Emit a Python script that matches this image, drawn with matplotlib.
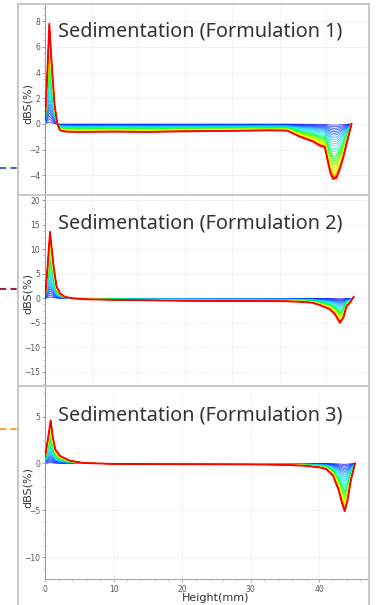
import numpy as np
import matplotlib
matplotlib.use("Agg")
import matplotlib.pyplot as plt
from matplotlib.colors import LinearSegmentedColormap
from matplotlib.lines import Line2D
from matplotlib.ticker import AutoMinorLocator, FixedLocator

# ---- data ----
titles = ["Sedimentation (Formulation 1)",
          "Sedimentation (Formulation 2)",
          "Sedimentation (Formulation 3)"]

# final (red) profile of each formulation: height in mm, dBS in %
f1_x = [0, 0.3, 0.63, 1.0, 1.4, 1.8, 2.2, 3.0, 5, 10, 15, 20, 25, 30, 33,
        35.3, 37.2, 39.0, 40.1, 40.8, 41.2, 41.6, 42.0, 42.5, 43.0, 43.5, 44.0, 44.7]
f1_y = [0.3, 3.5, 7.8, 4.5, 1.5, 0.0, -0.5, -0.6, -0.62, -0.6, -0.62, -0.58, -0.55,
        -0.52, -0.5, -0.52, -1.0, -1.35, -1.7, -1.8, -2.8, -3.8, -4.28, -4.2, -3.5,
        -2.6, -1.5, 0.0]

f2_x = [0, 0.35, 0.73, 1.0, 1.3, 1.7, 2.2, 2.9, 4, 6, 10, 15, 20, 25, 30, 35, 37,
        39, 40.1, 41.5, 42.3, 43.0, 43.5, 44.0, 44.3, 44.6, 45.0]
f2_y = [0, 6, 13.6, 10, 6, 2.4, 1.0, 0.3, 0.0, -0.2, -0.3, -0.4, -0.5, -0.55, -0.55,
        -0.6, -0.7, -0.9, -1.4, -2.2, -3.3, -5.0, -4.0, -1.5, -1.2, -0.6, 0.3]

f3_x = [0, 0.4, 0.83, 1.1, 1.5, 2.2, 3.6, 5.6, 10, 20, 30, 35, 38, 40.1, 41.0,
        42.0, 42.8, 43.3, 43.7, 44.1, 44.6, 45.2]
f3_y = [0.7, 2.5, 4.6, 3.0, 1.5, 0.8, 0.3, 0.05, -0.05, -0.08, -0.1, -0.15, -0.25,
        -0.43, -0.6, -1.3, -2.8, -4.2, -5.1, -4.0, -1.8, 0.0]

# relative amplitude of each scan compared with the last one (blue -> red)
scan_level = [0.02, 0.05, 0.08, 0.11, 0.14, 0.17, 0.20, 0.24, 0.28, 0.32, 0.36, 0.40,
              0.45, 0.50, 0.55, 0.59, 0.63, 0.67, 0.71, 0.74, 0.77, 0.80, 0.83, 0.85,
              0.87, 0.89, 0.91, 0.93, 0.94, 0.95, 0.96, 0.97, 0.98, 0.99, 0.995, 1.0]

y_ticks = [[-4, -2, 0, 2, 4, 6, 8],
           [-15, -10, -5, 0, 5, 10, 15, 20],
           [-10, -5, 0, 5]]
y_limits = [(-5.45, 9.26), (-17.7, 20.9), (-12.35, 8.15)]
x_ticks = [0, 10, 20, 30, 40]
top_grid_x = [6.8, 13.5, 20.4, 27.2, 34.2, 41.0]

marker_colors = ["#4a6cc0", "#9b2050", "#f5a445"]

# ---- figure ----
W, H = 377, 605
fig = plt.figure(figsize=(W / 100, H / 100), dpi=100)
fig.patch.set_facecolor("white")

cmap = LinearSegmentedColormap.from_list(
    "scan", ["#0000ff", "#0060ff", "#00e0ff", "#00ff40", "#c0ff00", "#ffff00",
             "#ff8000", "#ff0000"])

# pixel boxes (top, bottom) of each panel
boxes = [(5, 194), (196, 385), (387, 579.3)]
ax_left, ax_right = 45, 368

profiles = [(f1_x, f1_y), (f2_x, f2_y), (f3_x, f3_y)]
title_y = [32, 223, 415]
ylab_y = [104, 293, 487]
marker_y = [168, 289, 429]

n = len(scan_level)
for k, (top, bot) in enumerate(boxes):
    ax = fig.add_axes([ax_left / W, 1 - bot / H, (ax_right - ax_left) / W, (bot - top) / H])
    ax.set_facecolor("white")
    px, py = profiles[k]
    py = np.array(py)
    for i, lev in enumerate(scan_level):
        last = i == n - 1
        ax.plot(px, py * lev, color=cmap(i / (n - 1)),
                lw=1.3 if last else 0.6, alpha=1.0 if i > n * 0.4 else 0.75,
                zorder=2 + i / n, solid_joinstyle="round")

    ax.set_xlim(0, 47.1)
    ax.set_ylim(*y_limits[k])
    ax.yaxis.set_major_locator(FixedLocator(y_ticks[k]))
    ax.yaxis.set_minor_locator(AutoMinorLocator(4))
    ax.tick_params(axis="y", which="major", labelsize=5.5, colors="#777777",
                   labelcolor="#555555", length=2.5, width=0.5, pad=1)
    ax.tick_params(axis="y", which="minor", colors="#999999", length=1.5, width=0.4)
    ax.grid(axis="y", which="major", color="#e6e6e6", lw=0.6, ls=(0, (1, 1)))
    if k < 2:
        ax.set_xticks([])
        for gx in top_grid_x:
            ax.axvline(gx, color="#e6e6e6", lw=0.6, ls=(0, (1, 1)), zorder=0)
        ax.spines["bottom"].set_visible(False)
    else:
        ax.set_xticks(x_ticks)
        ax.xaxis.set_minor_locator(AutoMinorLocator(5))
        ax.tick_params(axis="x", which="major", labelsize=5.5, colors="#888888",
                       labelcolor="#555555", length=2.5, width=0.5, pad=1.5)
        ax.tick_params(axis="x", which="minor", colors="#999999", length=1.5, width=0.4)
        ax.grid(axis="x", which="major", color="#e6e6e6", lw=0.6, ls=(0, (1, 1)))
        ax.spines["bottom"].set_color("#aaaaaa")
        ax.spines["bottom"].set_linewidth(0.8)
    for s in ["top", "right"]:
        ax.spines[s].set_visible(False)
    ax.spines["left"].set_color("#999999")
    ax.spines["left"].set_linewidth(0.8)
    ax.set_axisbelow(True)

    fig.text(58 / W, 1 - title_y[k] / H, titles[k], fontsize=14.3, color="#333333",
             family="Noto Sans", va="center", ha="left")
    fig.text(28 / W, 1 - ylab_y[k] / H, "dBS(%)", fontsize=8, color="#333333",
             rotation=90, va="center", ha="center")
    fig.add_artist(Line2D([0, 17 / W], [1 - marker_y[k] / H] * 2, color=marker_colors[k],
                          lw=1.5, ls=(0, (3, 2)), transform=fig.transFigure))

fig.text(216 / W, 1 - 598 / H, "Height(mm)", fontsize=8, color="#333333",
         va="center", ha="center")

# outer frame and separators
frame_c = "#c8c8c8"
for xs, ys in [([18.3, 18.3], [4, H]), ([369, 369], [4, H]), ([18.3, 369], [4, 4]),
               ([18.3, 369], [195, 195]), ([18.3, 369], [386, 386])]:
    fig.add_artist(Line2D([x / W for x in xs], [1 - y / H for y in ys], color=frame_c,
                          lw=1.4, transform=fig.transFigure))

fig.savefig("out.png", dpi=100)
